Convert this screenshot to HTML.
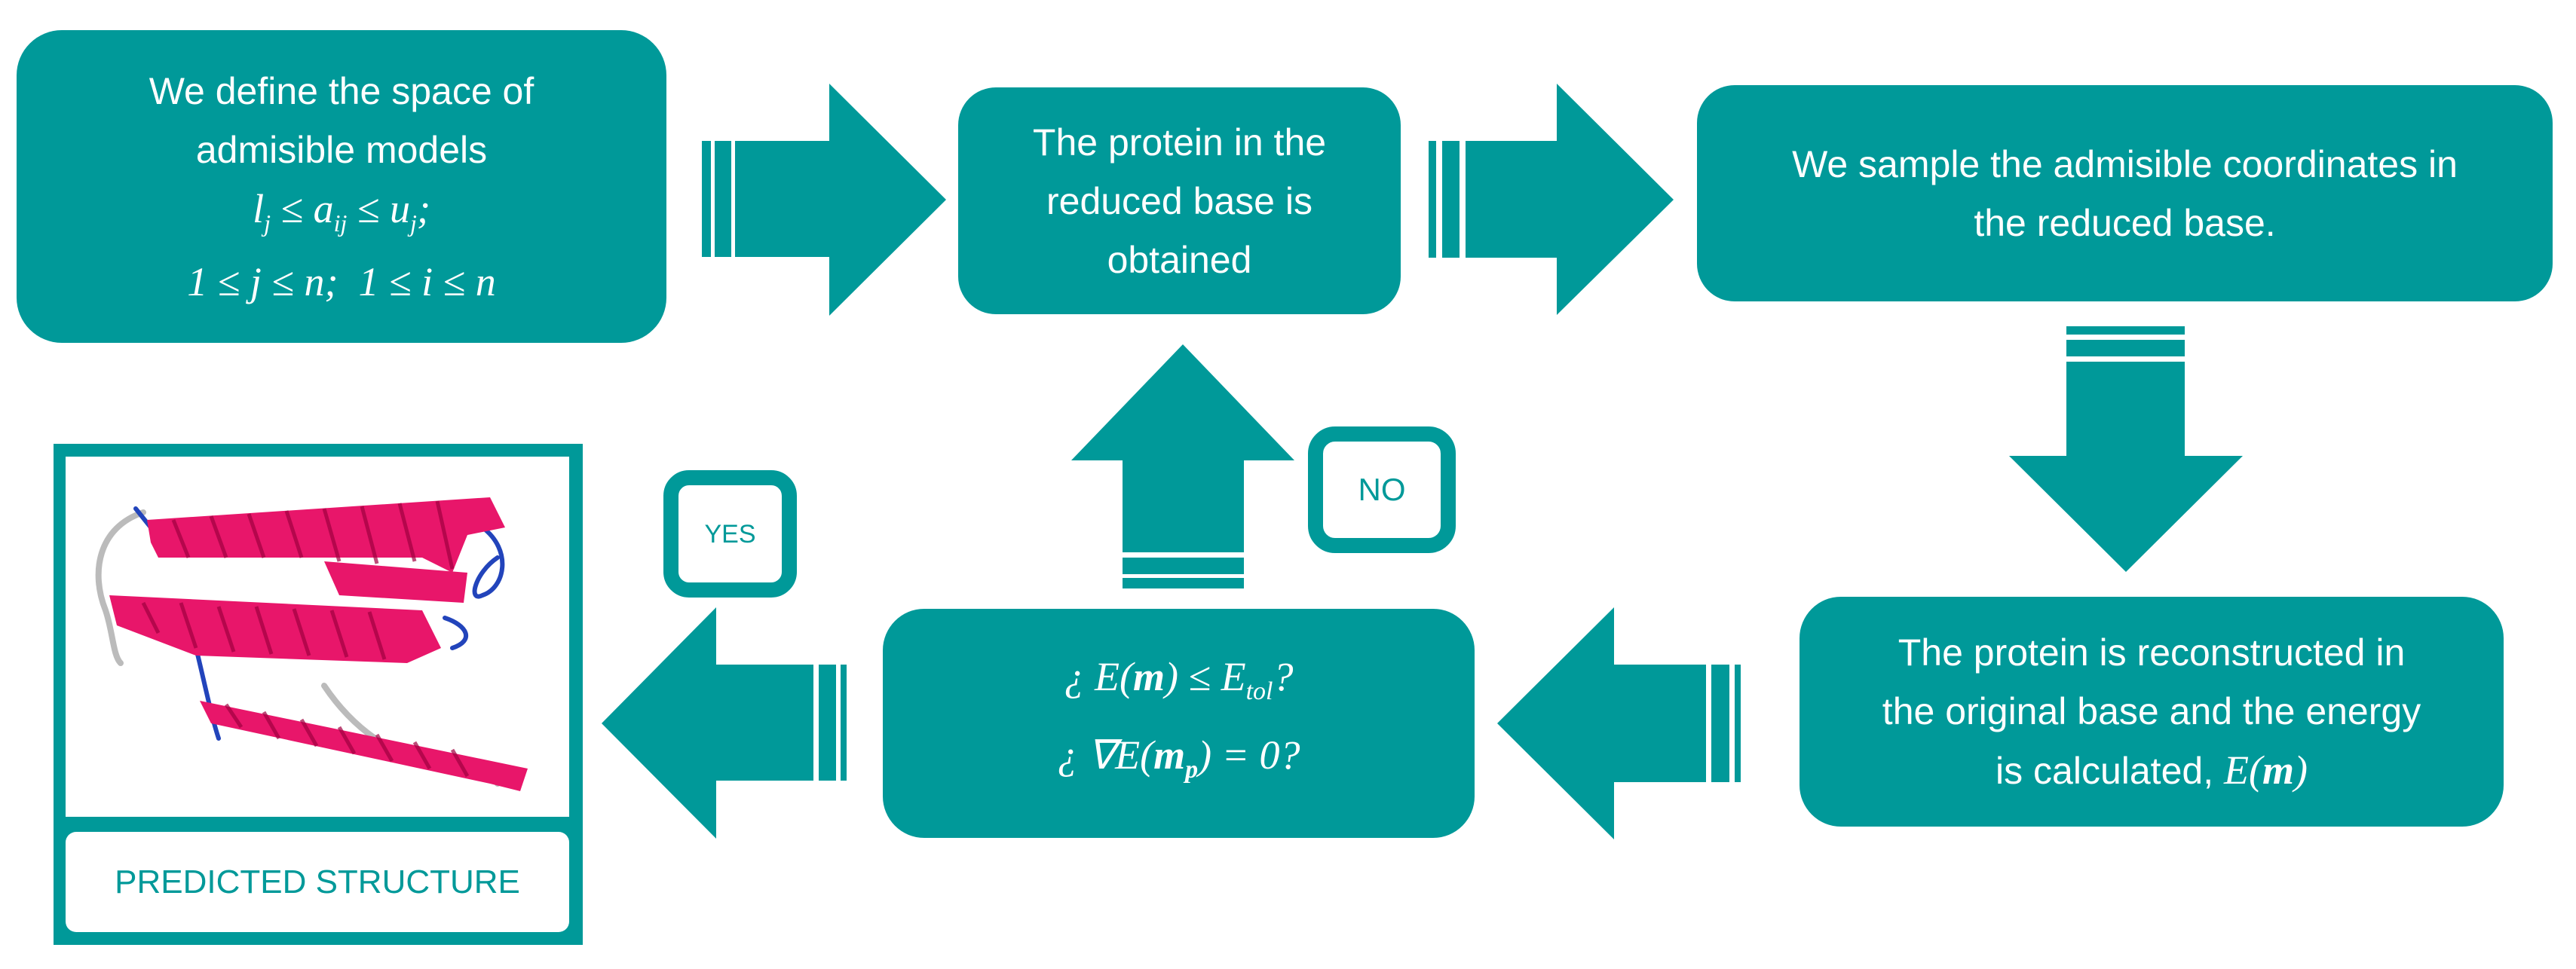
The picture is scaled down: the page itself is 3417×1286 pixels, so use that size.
<!DOCTYPE html>
<html><head><meta charset="utf-8"><style>
html,body{margin:0;padding:0;background:#fff;}
#c{position:relative;width:3417px;height:1286px;overflow:hidden;font-family:"Liberation Sans",sans-serif;}
svg{position:absolute;left:0;top:0;}
.t{position:absolute;color:#fff;text-align:center;font-size:50px;line-height:78px;display:flex;flex-direction:column;justify-content:center;align-items:center;}
.m{font-family:"Liberation Serif",serif;font-style:italic;font-size:54px;}
</style></head><body><div id="c">
<svg width="3417" height="1286" viewBox="0 0 3417 1286">
<g fill="#009999">
<rect x="22" y="40" width="862" height="415" rx="60"/>
<rect x="1271" y="116" width="587" height="301" rx="50"/>
<rect x="2251" y="113" width="1135" height="287" rx="50"/>
<rect x="2387" y="792" width="934" height="305" rx="55"/>
<rect x="1171" y="808" width="785" height="304" rx="55"/>
<!-- arrow1 -->
<rect x="931" y="187" width="12" height="154"/><rect x="948" y="187" width="22" height="154"/>
<polygon points="975,187 1100,187 1100,111 1255,265 1100,419 1100,341 975,341"/>
<!-- arrow2 -->
<rect x="1895" y="187" width="10" height="155"/><rect x="1913" y="187" width="23" height="155"/>
<polygon points="1944,187 2065,187 2065,111 2220,265 2065,418 2065,342 1944,342"/>
<!-- down arrow -->
<rect x="2741" y="433" width="157" height="11"/><rect x="2741" y="451" width="157" height="22"/>
<polygon points="2741,480 2898,480 2898,605 2975,605 2820,759 2665,605 2741,605"/>
<!-- left arrow 4->5 -->
<rect x="2301" y="882" width="8" height="156"/><rect x="2270" y="882" width="24" height="156"/>
<polygon points="2263,882 2141,882 2141,806 1986,960 2141,1114 2141,1038 2263,1038"/>
<!-- up arrow -->
<rect x="1489" y="767" width="161" height="14"/><rect x="1489" y="740" width="161" height="22"/>
<polygon points="1489,733 1650,733 1650,611 1717,611 1569,457 1421,611 1489,611"/>
<!-- left arrow 5->pred -->
<rect x="1115" y="882" width="8" height="154"/><rect x="1086" y="882" width="23" height="154"/>
<polygon points="1079,882 950,882 950,806 798,960 950,1113 950,1036 1079,1036"/>
<!-- predicted frame -->
<rect x="71" y="589" width="702" height="665"/>
</g>
<rect x="87" y="606" width="668" height="478" fill="#fff"/>
<rect x="87" y="1104" width="668" height="133" rx="14" fill="#fff"/>
<rect x="1745" y="576" width="176" height="148" rx="26" fill="#fff" stroke="#009999" stroke-width="20"/>
<rect x="890" y="634" width="157" height="149" rx="24" fill="#fff" stroke="#009999" stroke-width="20"/>
<!-- protein -->
<g fill="none" stroke-linecap="round">
<path d="M190,680 C130,700 120,760 140,810 C150,840 150,870 160,880" stroke="#bbb" stroke-width="8"/>
<path d="M180,675 L200,700" stroke="#2244bb" stroke-width="6"/>
<path d="M640,700 C680,730 670,780 640,790 C620,800 630,760 660,740" stroke="#2244bb" stroke-width="6"/>
<path d="M590,820 C620,830 630,850 600,860" stroke="#2244bb" stroke-width="6"/>
<path d="M260,860 C270,900 280,950 290,980" stroke="#2244bb" stroke-width="6"/>
<path d="M430,910 C470,970 520,1000 580,1020 C620,1030 640,1010 660,1040" stroke="#bbb" stroke-width="8"/>
</g>
<g fill="#e8166a">
<polygon points="195,690 650,660 670,700 620,710 600,760 560,740 210,740 200,720"/>
<polygon points="430,745 620,760 615,800 450,790"/>
<polygon points="145,790 560,810 585,860 540,880 260,870 155,830"/>
<polygon points="265,930 700,1020 690,1050 650,1040 280,960"/>
</g>
<g stroke="#a00040" stroke-width="5" opacity="0.7">
<path d="M230,690 L250,740 M280,685 L300,740 M330,682 L350,740 M380,678 L400,740 M430,675 L450,745 M480,672 L500,748 M530,668 L550,745 M580,665 L600,755"/>
<path d="M190,800 L210,840 M240,800 L260,860 M290,805 L310,865 M340,805 L360,868 M390,808 L410,870 M440,810 L460,872 M490,812 L510,875"/>
<path d="M300,935 L320,965 M350,945 L370,980 M400,955 L420,990 M450,965 L470,1000 M500,975 L520,1010 M550,985 L570,1020 M600,995 L620,1030"/>
</g>
</svg>
<div class="t" style="left:22px;top:40px;width:862px;height:415px;">
<div>We define the space of</div><div>admisible models</div>
<div class="m">l<sub style="font-size:32px">j</sub> ≤ a<sub style="font-size:32px">ij</sub> ≤ u<sub style="font-size:32px">j</sub>;</div>
<div class="m">1 ≤ j ≤ n;&nbsp; 1 ≤ i ≤ n</div></div>
<div class="t" style="left:1271px;top:116px;width:587px;height:301px;"><div>The protein in the</div><div>reduced base is</div><div>obtained</div></div>
<div class="t" style="left:2251px;top:113px;width:1135px;height:287px;"><div>We sample the admisible coordinates in</div><div>the reduced base.</div></div>
<div class="t" style="left:2387px;top:792px;width:934px;height:305px;"><div>The protein is reconstructed in</div><div>the original base and the energy</div><div>is calculated, <span class="m">E(<b>m</b>)</span></div></div>
<div class="t" style="left:1171px;top:808px;width:785px;height:304px;line-height:84px;">
<div class="m">¿ E(<b>m</b>) ≤ E<sub style="font-size:34px">tol</sub>?</div>
<div class="m">¿ ∇E(<b>m<sub style="font-size:34px">p</sub></b>) = 0?</div></div>
<div class="t" style="left:1745px;top:576px;width:176px;height:148px;color:#009999;font-size:42px;">NO</div>
<div class="t" style="left:890px;top:634px;width:157px;height:149px;color:#009999;font-size:34px;">YES</div>
<div class="t" style="left:87px;top:1104px;width:668px;height:133px;color:#009999;font-size:44px;">PREDICTED STRUCTURE</div>
</div></body></html>
